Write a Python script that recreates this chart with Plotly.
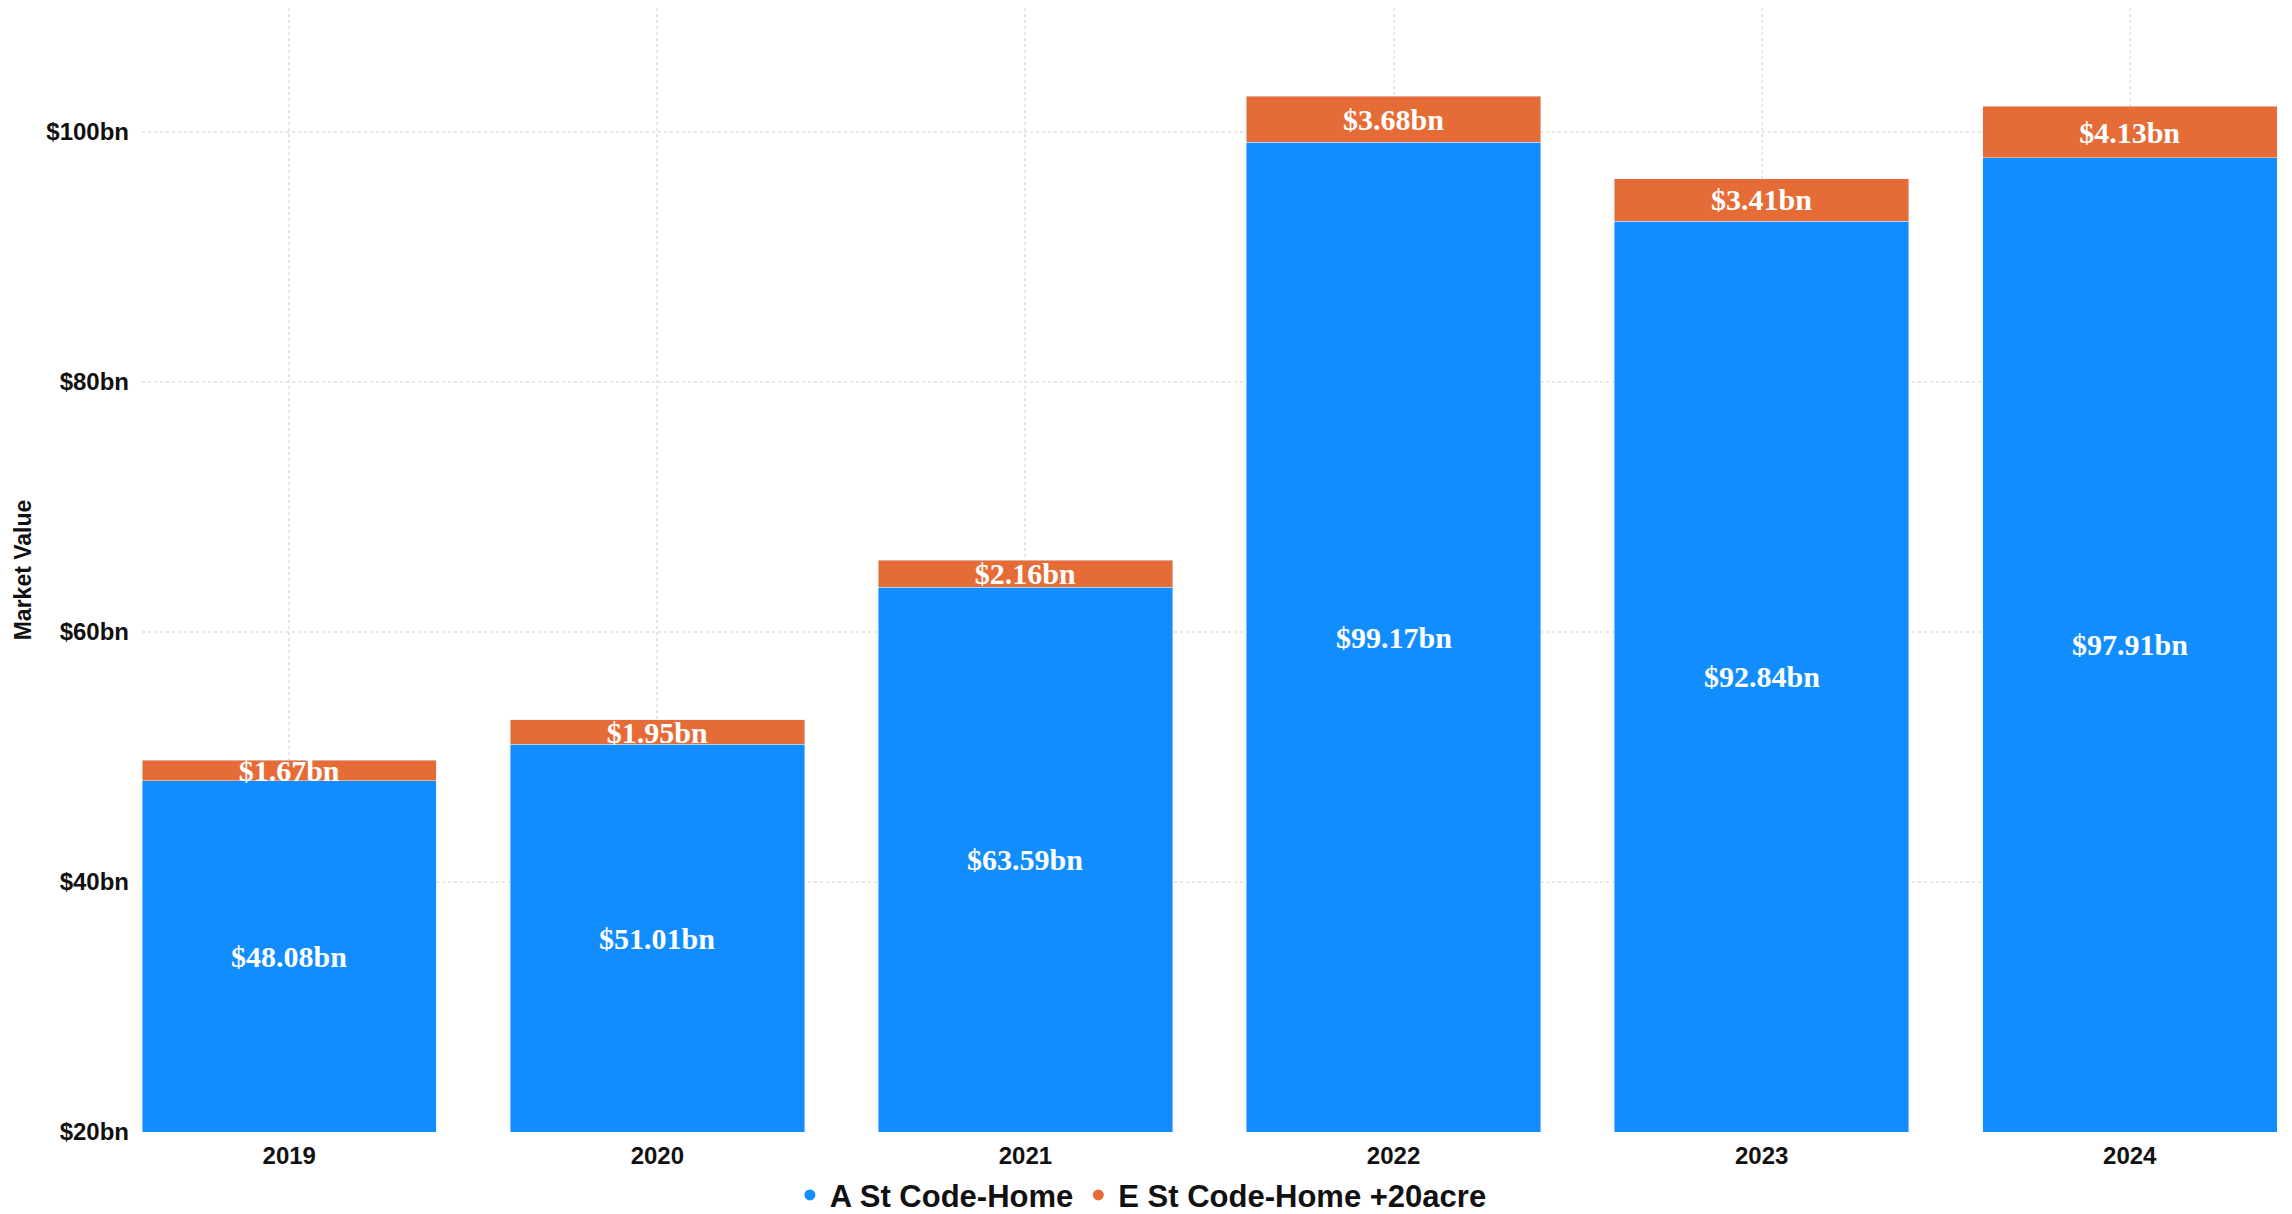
import plotly.graph_objects as go

years = ["2019", "2020", "2021", "2022", "2023", "2024"]
home_values = [48.08, 51.01, 63.59, 99.17, 92.84, 97.91]
acre_values = [1.67, 1.95, 2.16, 3.68, 3.41, 4.13]
series_names = ["A St Code-Home", "E St Code-Home +20acre"]
y_ticks = [20, 40, 60, 80, 100]
y_tick_labels = ["$20bn", "$40bn", "$60bn", "$80bn", "$100bn"]

Y_MIN, Y_MAX = 20, 109.9

BLUE = "#118DFF"
ORANGE = "#E66C37"
TXT = "#111111"

label_font = dict(family="Liberation Serif", size=30, color="white", weight="bold")

fig = go.Figure()
fig.add_trace(go.Bar(
    x=years, y=home_values, name=series_names[0], marker_color=BLUE,
    showlegend=False,
))
fig.add_trace(go.Bar(
    x=years, y=acre_values, name=series_names[1], marker_color=ORANGE,
    text=[f"${v:.2f}bn" for v in acre_values], textposition="inside",
    insidetextanchor="middle", constraintext="none", textangle=0,
    textfont=label_font, showlegend=False,
))
# labels for the blue segment, centred on the visible part of the bar
for i, v in enumerate(home_values):
    fig.add_annotation(
        x=i, y=(Y_MIN + v) / 2, xref="x", yref="y",
        text=f"${v:.2f}bn", showarrow=False,
        font=label_font, xanchor="center", yanchor="middle",
    )
# legend entries with circular markers
for name, col in zip(series_names, [BLUE, ORANGE]):
    fig.add_trace(go.Scatter(
        x=[None], y=[None], mode="markers", name=name,
        marker=dict(symbol="circle", size=11, color=col),
    ))

# the page body adds an 8px offset, so the figure is 8px smaller each way
fig.update_layout(
    width=2284, height=1206,
    barmode="stack", bargap=0.2,
    paper_bgcolor="white", plot_bgcolor="white",
    margin=dict(l=134, r=15, t=0, b=82),
    font=dict(family="Liberation Sans", color=TXT),
    legend=dict(
        orientation="h", xref="container", yref="container",
        x=0.496, xanchor="center", y=0.0155, yanchor="middle",
        font=dict(family="Liberation Sans", size=31, color=TXT, weight="bold"),
        itemwidth=30, traceorder="normal",
    ),
)
fig.update_xaxes(
    type="category", range=[-0.4, 5.4], automargin=False,
    showgrid=True, gridcolor="#E6E6E6", griddash="dot", gridwidth=1.5,
    showline=False, zeroline=False, ticks="",
    tickfont=dict(family="Liberation Sans", size=24, color=TXT, weight="bold"),
    ticklabelstandoff=7,
)
fig.update_yaxes(
    range=[Y_MIN, Y_MAX], tickvals=y_ticks, ticktext=y_tick_labels, automargin=False,
    showgrid=True, gridcolor="#E6E6E6", griddash="dot", gridwidth=1.5,
    showline=False, zeroline=False, ticks="",
    tickfont=dict(family="Liberation Sans", size=24, color=TXT, weight="bold"),
    ticklabelstandoff=12,
    title=dict(text="Market Value", standoff=8,
               font=dict(family="Liberation Sans", size=23, color=TXT, weight="bold")),
)

fig.write_html("out.html")
